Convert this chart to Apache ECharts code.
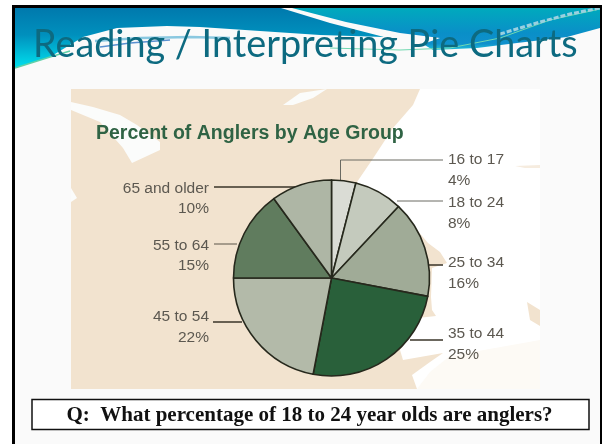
<!DOCTYPE html>
<html>
<head>
<meta charset="utf-8">
<style>html,body{margin:0;padding:0;background:#fff}#c{width:602px;height:444px}</style>
<script src="https://cdn.jsdelivr.net/npm/echarts@6/dist/echarts.min.js"></script>
</head>
<body>
<div id="c"></div>
<script>
const categories = ['16 to 17','18 to 24','25 to 34','35 to 44','45 to 54','55 to 64','65 and older'];
const values = [4,8,16,25,22,15,10];
const sliceColors = ['#dadcd5','#c4cabd','#a0ab97','#29603a','#b3baa9','#607c5e','#aeb6a5'];
const slideTitle = 'Reading / Interpreting Pie Charts';
const chartTitle = 'Percent of Anglers by Age Group';
const question = 'Q:  What percentage of 18 to 24 year olds are anglers?';

// label placement: [text x, text y, align, leader points, leader colour, leader width]
const labelPlacement = [
  [448,170,'left',[[340.5,182],[340.5,160],[443,160]],'#6a6a62',1],
  [448,213,'left',[[397,201],[420,201],[443,201]],'#6a6a62',1],
  [448,273,'left',[[429,265],[436,265],[443,265]],'#3a3528',1.5],
  [448,344,'left',[[410,340],[426,340],[443,340]],'#3a3528',1.5],
  [209,327,'right',[[242,322],[228,322],[213,322]],'#3a3528',1.5],
  [209,255.5,'right',[[237,244],[226,244],[214,244]],'#5a5548',1],
  [209,198.5,'right',[[296,187],[255,187],[214,187]],'#3a3528',1.5]
];

const beige = '#f2e3cf';
function poly(points, fill, z){
  return {type:'polygon', z:z, silent:true, shape:{points:points}, style:{fill:fill}};
}
function line(points, color, w, z, dash){
  return {type:'polyline', z:z, silent:true, shape:{points:points},
    style:{stroke:color, lineWidth:w, fill:null, lineDash:dash||null}};
}
const vgrad = stops => ({type:'linear',x:0,y:0,x2:0,y2:1,colorStops:stops.map((c,i)=>({offset:c[0],color:c[1]}))});

const backdrop = [
  {type:'rect', z:-10, silent:true, shape:{x:12,y:5,width:590,height:439}, style:{fill:'#fafafa'}},
  // header: left blue
  poly([[15,8],[281,8],[330,23],[384,37],[320,35],[260,31],[200,27],[167,26],[117,28],[83,37],[50,57],[15,68]],
    vgrad([[0,'#0079ad'],[0.45,'#0090bd'],[1,'#00e0ee']]),-9),
  // header: right teal/blue
  poly([[292,8],[346,22],[400,33],[440,38],[423,44],[433,50],[477,48],[517,43],[567,37],[600,28],[600,8]],
    vgrad([[0,'#00aabd'],[0.6,'#0a8fc8'],[0.85,'#0f90cc'],[1,'#22c4d8']]),-9),
  // streaks
  line([[15,68],[50,57],[70,51]],'#5fd0a8',1.5,-8),
  line([[95,41],[140,38],[190,37],[230,38]],'#8ac8e0',2.5,-8),
  line([[100,47],[130,43],[170,40]],'#5a90d0',1.5,-8),
  line([[330,48],[400,50],[450,48],[500,38],[550,20],[600,9]],'#70d8b0',1,-8),
  line([[500,34],[540,22],[570,14],[600,8]],'#9ad0e0',3,-8,[5,2]),
  // map
  {type:'rect', z:-7, silent:true, shape:{x:71,y:89,width:469,height:300}, style:{fill:'#ffffff'}},
  poly([[71,89],[420,89],[413,105],[393,128],[372,160],[357,182],[400,210],[428,243],[440,252],[447,263],[432,268],[431,297],[432,310],[436,316],[418,318],[400,350],[403,360],[443,353],[430,362],[412,375],[417,389],[71,389]],beige,-6),
  poly([[527,302],[540,310],[540,326],[530,320]],beige,-6),
  poly([[515,166],[540,165],[540,168],[525,168]],'#f6ecdf',-6),
  poly([[417,389],[430,372],[450,356],[540,340],[540,389]],'#fdfaf5',-6),
  // lakes
  poly([[71,102],[93,107],[120,115],[137,125],[160,142],[160,150],[132,163],[123,148],[100,122],[71,110]],'#fbfcfb',-5),
  poly([[283,105],[300,93],[327,89],[313,98],[293,105]],'#fbfcfb',-5),
  poly([[71,188],[77,198],[71,202]],'#fbfcfb',-5),
  // frame
  {type:'rect', z:20, silent:true, shape:{x:12,y:5,width:590,height:3}, style:{fill:'#000'}},
  {type:'rect', z:20, silent:true, shape:{x:12,y:5,width:3,height:439}, style:{fill:'#000'}},
  {type:'rect', z:20, silent:true, shape:{x:600,y:5,width:2,height:439}, style:{fill:'#000'}},
  // question box
  {type:'rect', z:10, silent:true, shape:{x:32,y:399.5,width:557,height:30}, style:{fill:'#ffffff',stroke:'#111',lineWidth:1.5}},
  {type:'text', z:11, silent:true, x:309.5, y:415.5, style:{text:question, fill:'#111', align:'center', verticalAlign:'middle',
    font:'bold 21px "Liberation Serif"'}}
];

const chart = echarts.init(document.getElementById('c'), null, {renderer:'canvas'});
chart.setOption({
  animation:false,
  backgroundColor:'#ffffff',
  title:[
    {text:slideTitle, left:33, top:26, padding:0,
      textStyle:{fontFamily:'Lato', fontWeight:'normal', fontSize:37.8, color:'#0d6a80'}},
    {text:chartTitle, left:96, top:124, padding:0,
      textStyle:{fontFamily:'Liberation Sans', fontWeight:'bold', fontSize:19.5, color:'#2f6344'}}
  ],
  graphic:{elements:backdrop},
  series:[{
    type:'pie',
    center:[331.5,278],
    radius:[0,98],
    startAngle:90,
    clockwise:true,
    avoidLabelOverlap:false,
    silent:true,
    itemStyle:{borderColor:'#26281c', borderWidth:1.6},
    label:{show:true, formatter:'{b}\n{c}%', fontFamily:'Liberation Sans', fontSize:15.5, lineHeight:20.5, color:'#5c5850'},
    labelLine:{show:true},
    labelLayout:function(p){
      const a = labelPlacement[p.dataIndex];
      return {x:a[0], y:a[1], align:a[2], verticalAlign:'middle', labelLinePoints:a[3], moveOverlap:null, hideOverlap:false};
    },
    data:categories.map((name,i)=>({
      name:name, value:values[i],
      itemStyle:{color:sliceColors[i]},
      label:{align:labelPlacement[i][2]},
      labelLine:{lineStyle:{color:labelPlacement[i][4], width:labelPlacement[i][5]}}
    }))
  }]
});
</script>
</body>
</html>
